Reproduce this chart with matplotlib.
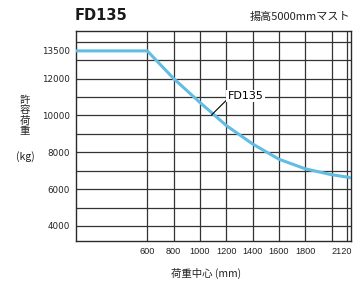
"""Rated capacity vs. load center chart for the FD135 forklift (5000 mm mast)."""

import matplotlib

matplotlib.use("Agg")
import matplotlib.pyplot as plt
from matplotlib.transforms import ScaledTranslation

JP_FONT = ["Noto Sans CJK JP", "DejaVu Sans"]
NARROW_FONT = ["Liberation Sans Narrow", "Liberation Sans", "DejaVu Sans"]

# Curve (load center in mm, capacity in kg).
load_center = [0, 600, 800, 1000, 1200, 1400, 1600, 1800, 2000, 2120, 2150]
capacity = [13500, 13500, 12000, 10700, 9450, 8450, 7620, 7100, 6780, 6650, 6600]

x_ticks = [600, 800, 1000, 1200, 1400, 1600, 1800, 2000, 2120]
x_tick_labels = ["600", "800", "1000", "1200", "1400", "1600", "1800", "", "2120"]
y_ticks = [4000, 6000, 8000, 10000, 12000, 13500]
y_grid = [4000, 5000, 6000, 7000, 8000, 9000, 10000, 11000, 12000, 13000, 14000]

title = "FD135"
subtitle = "揚高5000mmマスト"
series_label = "FD135"
label_point = (1089, 10030)
label_text_pos = (1346, 11050)
y_label_chars = ["許", "容", "荷", "重"]
y_label_unit = "(kg)"
x_label = "荷重中心 (mm)"

LINE_COLOR = "#62bde3"
GRID_COLOR = "#333333"
TEXT_COLOR = "#222222"

fig = plt.figure(figsize=(3.56, 2.84), dpi=100)
ax = fig.add_axes([0.2121, 0.1525, 0.7739, 0.7384])

ax.set_xlim(55, 2147)
ax.set_ylim(3200, 14580)

# Grid: vertical lines only from 600 on, horizontal every 1000 kg.
for x in x_ticks:
    ax.axvline(x, color=GRID_COLOR, linewidth=0.9, zorder=1)
for y in y_grid:
    ax.axhline(y, color=GRID_COLOR, linewidth=0.9, zorder=1)

ax.plot(load_center, capacity, color=LINE_COLOR, linewidth=2.2,
        solid_capstyle="butt", zorder=3)

ax.annotate(
    series_label,
    xy=label_point,
    xytext=label_text_pos,
    ha="center",
    va="center",
    fontsize=8,
    family="DejaVu Sans",
    bbox=dict(boxstyle="square,pad=0.1", facecolor="white", edgecolor="none"),
    arrowprops=dict(arrowstyle="-", color="black", linewidth=0.8,
                    shrinkA=0, shrinkB=0, relpos=(0.0, 0.2)),
    zorder=4,
)

ax.set_xticks(x_ticks)
ax.set_xticklabels(x_tick_labels, family=NARROW_FONT, fontsize=6.6)
ax.set_yticks(y_ticks)
ax.set_yticklabels([str(v) for v in y_ticks], fontsize=6.3)
ax.tick_params(axis="both", length=0, colors=TEXT_COLOR)
ax.tick_params(axis="x", pad=4.5)
ax.tick_params(axis="y", pad=4)

# The last label sits against the right edge in the reference; nudge it left.
last_label = ax.get_xticklabels()[-1]
last_label.set_transform(last_label.get_transform()
                         + ScaledTranslation(-6 / 100, 0, fig.dpi_scale_trans))

for spine in ax.spines.values():
    spine.set_color("#2a2a2a")
    spine.set_linewidth(1.0)

fig.text(75 / 356, 1 - 16 / 284, title, fontsize=10.5, fontweight="bold",
         family="DejaVu Sans", ha="left", va="center", color="#1a1a1a")
fig.text(350 / 356, 1 - 17 / 284, subtitle, fontsize=8, family=JP_FONT,
         ha="right", va="center", color=TEXT_COLOR)

for i, ch in enumerate(y_label_chars):
    fig.text(25 / 356, 1 - (100 + i * 10.3) / 284, ch, fontsize=7.5,
             family=JP_FONT, ha="center", va="center", color=TEXT_COLOR)
fig.text(25 / 356, 1 - 157 / 284, y_label_unit, fontsize=7.5, family=JP_FONT,
         ha="center", va="center", color=TEXT_COLOR)
fig.text(206 / 356, 1 - 273 / 284, x_label, fontsize=7.5, family=JP_FONT,
         ha="center", va="center", color=TEXT_COLOR)

fig.savefig("out.png", dpi=100)
